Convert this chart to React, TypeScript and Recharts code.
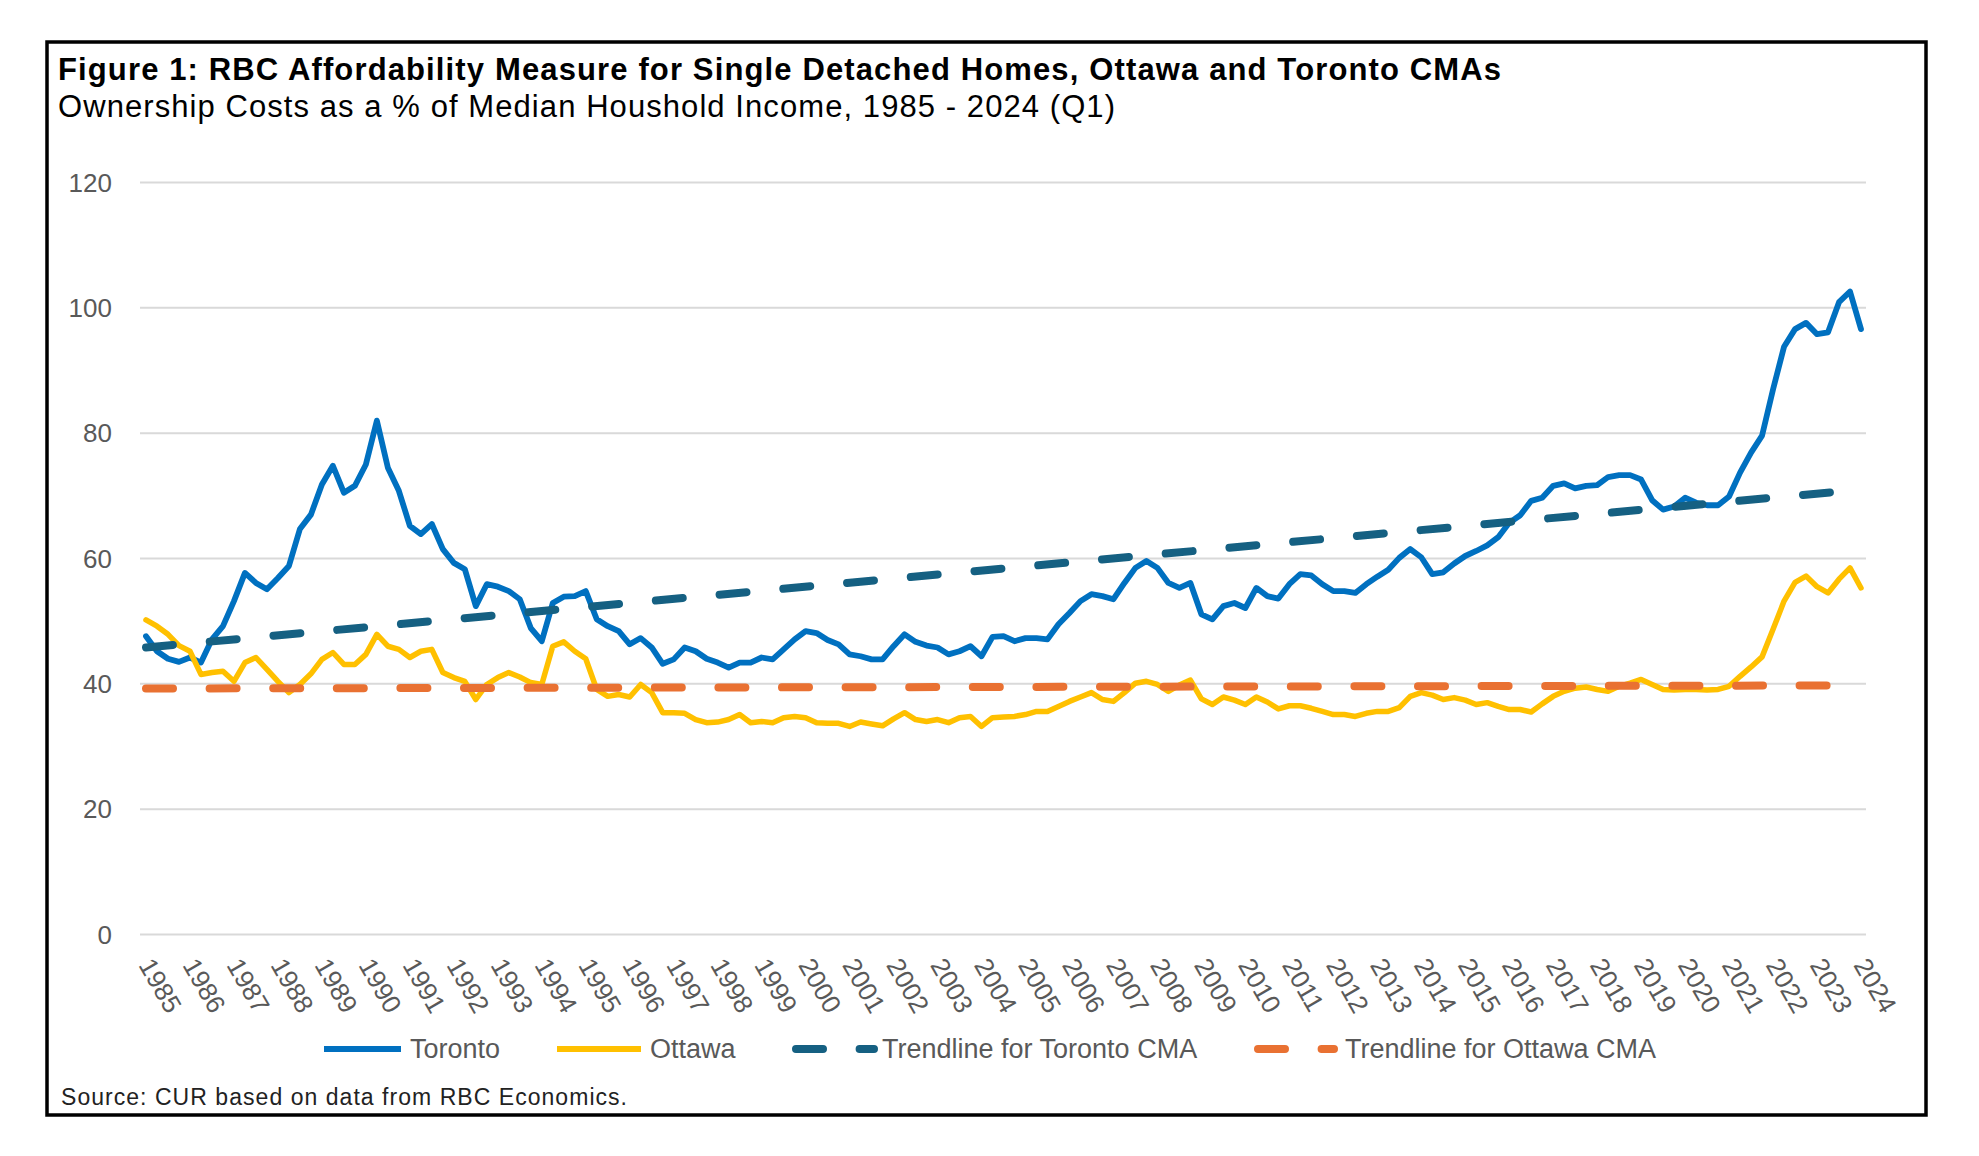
import React from "react";
import { LineChart, Line, XAxis, YAxis, CartesianGrid } from "recharts";

const FONT = "'Liberation Sans', Arial, sans-serif";

const yearLabels = [
  "1985", "1986", "1987", "1988", "1989", "1990", "1991", "1992", "1993", "1994",
  "1995", "1996", "1997", "1998", "1999", "2000", "2001", "2002", "2003", "2004",
  "2005", "2006", "2007", "2008", "2009", "2010", "2011", "2012", "2013", "2014",
  "2015", "2016", "2017", "2018", "2019", "2020", "2021", "2022", "2023", "2024",
];
const quarterNames = ["Q1", "Q2", "Q3", "Q4"];

// quarterly values, 1985 Q1 - 2024 Q1
const toronto = [
  47.6, 45.2, 44.0, 43.5, 44.2, 43.4, 47.1, 49.2, 53.2, 57.7,
  56.1, 55.1, 56.9, 58.8, 64.7, 67.0, 71.8, 74.8, 70.5, 71.6,
  75.0, 82.0, 74.5, 70.8, 65.2, 63.9, 65.5, 61.5, 59.3, 58.3,
  52.4, 55.9, 55.5, 54.8, 53.5, 48.9, 46.8, 52.9, 53.9, 54.0,
  54.8, 50.3, 49.2, 48.4, 46.3, 47.3, 45.8, 43.2, 43.9, 45.8,
  45.2, 44.0, 43.4, 42.6, 43.4, 43.4, 44.2, 43.9, 45.5, 47.1,
  48.4, 48.1, 47.0, 46.3, 44.7, 44.4, 43.9, 43.9, 46.0, 47.9,
  46.7, 46.1, 45.8, 44.7, 45.2, 46.0, 44.4, 47.5, 47.6, 46.8,
  47.3, 47.3, 47.1, 49.5, 51.3, 53.2, 54.3, 54.0, 53.5, 56.1,
  58.5, 59.6, 58.5, 56.1, 55.3, 56.1, 51.1, 50.3, 52.4, 52.9,
  52.1, 55.3, 54.0, 53.6, 55.9, 57.5, 57.3, 55.9, 54.8, 54.8,
  54.5, 55.9, 57.1, 58.2, 60.1, 61.5, 60.2, 57.5, 57.8, 59.2,
  60.4, 61.2, 62.1, 63.4, 65.7, 66.9, 69.2, 69.7, 71.6, 72.0,
  71.2, 71.6, 71.7, 73.0, 73.3, 73.3, 72.6, 69.3, 67.8, 68.3,
  69.7, 68.9, 68.5, 68.5, 69.9, 73.7, 76.9, 79.6, 87.0, 93.8,
  96.6, 97.6, 95.8, 96.1, 100.9, 102.6, 96.6,
];

const ottawa = [
  50.2, 49.2, 47.9, 46.1, 45.2, 41.5, 41.8, 42.0, 40.4, 43.4,
  44.2, 42.3, 40.4, 38.6, 39.9, 41.6, 43.9, 45.0, 43.1, 43.1,
  44.7, 47.9, 46.0, 45.5, 44.2, 45.2, 45.5, 41.8, 41.0, 40.4,
  37.5, 39.9, 41.0, 41.8, 41.1, 40.2, 39.9, 46.0, 46.7, 45.2,
  44.0, 39.1, 38.0, 38.3, 37.9, 39.9, 38.6, 35.4, 35.4, 35.3,
  34.3, 33.8, 33.9, 34.3, 35.1, 33.8, 34.0, 33.8, 34.6, 34.8,
  34.6, 33.8, 33.7, 33.7, 33.2, 33.9, 33.6, 33.3, 34.4, 35.4,
  34.3, 34.0, 34.3, 33.8, 34.6, 34.8, 33.2, 34.6, 34.7, 34.8,
  35.1, 35.6, 35.6, 36.4, 37.2, 37.9, 38.6, 37.5, 37.2, 38.6,
  40.1, 40.4, 39.9, 38.8, 39.8, 40.6, 37.6, 36.7, 37.9, 37.4,
  36.7, 37.9, 37.1, 36.0, 36.5, 36.5, 36.1, 35.6, 35.1, 35.1,
  34.8, 35.3, 35.6, 35.6, 36.2, 38.0, 38.6, 38.2, 37.5, 37.8,
  37.4, 36.7, 37.0, 36.4, 35.9, 35.9, 35.5, 36.8, 38.0, 38.8,
  39.3, 39.5, 39.1, 38.8, 39.6, 40.1, 40.7, 39.9, 39.1, 39.0,
  39.1, 39.1, 39.0, 39.1, 39.6, 41.2, 42.7, 44.3, 48.7, 53.2,
  56.2, 57.2, 55.5, 54.5, 56.7, 58.5, 55.3,
];

// linear trendlines: value at first and last quarter
const torontoTrendEnds = [45.8, 71.0];
const ottawaTrendEnds = [39.25, 39.75];

const yTicks = [0, 20, 40, 60, 80, 100, 120];

const periods = yearLabels
  .flatMap((y) => quarterNames.map((q) => `${y} ${q}`))
  .slice(0, toronto.length);
const last = toronto.length - 1;

const data = periods.map((period, i) => ({
  period,
  toronto: toronto[i],
  ottawa: ottawa[i],
  torontoTrend: i === 0 ? torontoTrendEnds[0] : i === last ? torontoTrendEnds[1] : null,
  ottawaTrend: i === 0 ? ottawaTrendEnds[0] : i === last ? ottawaTrendEnds[1] : null,
}));

const BLUE = "#0070C0";
const GOLD = "#FFC000";
const NAVY = "#156082";
const ORANGE = "#E97132";
const GREY = "#595959";
const DASH = "27 36.6";
const DASH_TORONTO = "27 37";

const YTick = (props: any) => {
  const { x, y, payload } = props;
  return (
    <text x={x} y={y} dy="0.35em" textAnchor="end" fill={GREY} fontSize={26} fontFamily={FONT}>
      {payload.value}
    </text>
  );
};

const XTick = (props: any) => {
  const { x, y, payload } = props;
  return (
    <g transform={`translate(${x},${y})`}>
      <text transform="rotate(60)" dy="0.35em" textAnchor="start" fill={GREY} fontSize={26} fontFamily={FONT}>
        {String(payload.value).slice(0, 4)}
      </text>
    </g>
  );
};

const legendItems = [
  { label: "Toronto", color: BLUE, dashed: false, x1: 324, x2: 401, tx: 410 },
  { label: "Ottawa", color: GOLD, dashed: false, x1: 557, x2: 641, tx: 650 },
  { label: "Trendline for Toronto CMA", color: NAVY, dashed: true, x1: 796, x2: 874, tx: 882 },
  { label: "Trendline for Ottawa CMA", color: ORANGE, dashed: true, x1: 1258, x2: 1334, tx: 1345 },
];

export default function App() {
  return (
    <div style={{ position: "absolute", left: 0, top: 0, width: 1979, height: 1156, background: "#fff" }}>
      <div style={{ position: "absolute", left: 0, top: 0 }}>
        <LineChart
          width={1979}
          height={1156}
          data={data}
          margin={{ top: 182.5, right: 113, bottom: 141.5, left: 60 }}
        >
          <CartesianGrid vertical={false} stroke="#D9D9D9" strokeWidth={2} />
          <XAxis
            dataKey="period"
            interval={3}
            height={80}
            tickLine={false}
            axisLine={false}
            tickSize={0}
            tickMargin={26}
            padding={{ left: 6, right: 5 }}
            tick={(p: any) => <XTick {...p} />}
          />
          <YAxis
            domain={[0, 120]}
            ticks={yTicks}
            width={80}
            tickLine={false}
            axisLine={false}
            tickSize={0}
            tickMargin={28}
            tick={(p: any) => <YTick {...p} />}
          />
          <Line type="linear" dataKey="toronto" stroke={BLUE} strokeWidth={5.8} dot={false}
            strokeLinejoin="round" strokeLinecap="round" isAnimationActive={false} />
          <Line type="linear" dataKey="ottawa" stroke={GOLD} strokeWidth={5.5} dot={false}
            strokeLinejoin="round" strokeLinecap="round" isAnimationActive={false} />
          <Line type="linear" dataKey="torontoTrend" stroke={NAVY} strokeWidth={8} dot={false}
            connectNulls strokeDasharray={DASH_TORONTO} strokeLinecap="round" isAnimationActive={false} />
          <Line type="linear" dataKey="ottawaTrend" stroke={ORANGE} strokeWidth={8} dot={false}
            connectNulls strokeDasharray={DASH} strokeLinecap="round" isAnimationActive={false} />
        </LineChart>
      </div>
      <svg
        width={1979}
        height={1156}
        style={{ position: "absolute", left: 0, top: 0, pointerEvents: "none" }}
      >
        <rect x={47} y={42} width={1879} height={1073} fill="none" stroke="#000" strokeWidth={3.5} />
        <text x={58} y={80} fontFamily={FONT} fontWeight="bold" fontSize={31} fill="#000"
          textLength={1443} lengthAdjust="spacing">
          Figure 1: RBC Affordability Measure for Single Detached Homes, Ottawa and Toronto CMAs
        </text>
        <text x={58} y={117} fontFamily={FONT} fontSize={31} fill="#000"
          textLength={1057} lengthAdjust="spacing">
          Ownership Costs as a % of Median Houshold Income, 1985 - 2024 (Q1)
        </text>
        {legendItems.map((it) => (
          <g key={it.label}>
            <line x1={it.x1} x2={it.x2} y1={1049} y2={1049} stroke={it.color}
              strokeWidth={it.dashed ? 8 : 5.8} strokeLinecap={it.dashed ? "round" : "butt"}
              strokeDasharray={it.dashed ? DASH : undefined} />
            <text x={it.tx} y={1049} dy="0.35em" fontFamily={FONT} fontSize={27} fill={GREY}>
              {it.label}
            </text>
          </g>
        ))}
        <text x={61} y={1105} fontFamily={FONT} fontSize={23} fill="#222"
          textLength={566} lengthAdjust="spacing">
          Source: CUR based on data from RBC Economics.
        </text>
      </svg>
    </div>
  );
}
